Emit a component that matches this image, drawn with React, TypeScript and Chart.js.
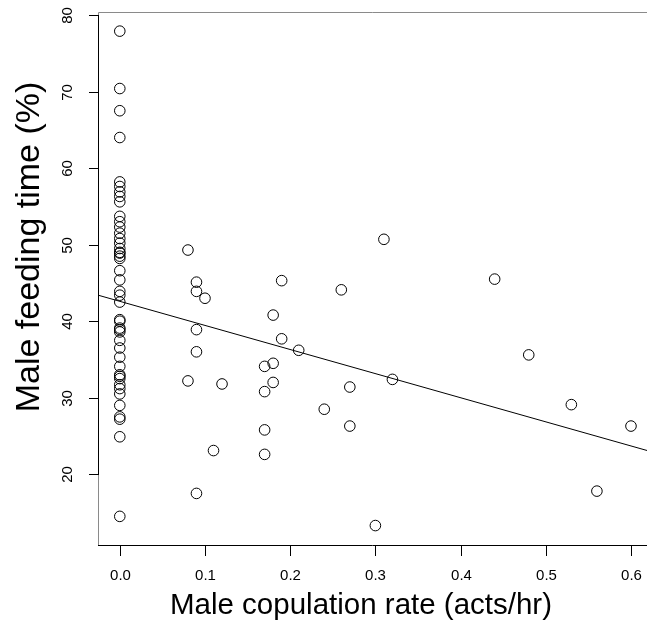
import React, { useEffect, useRef } from "react";
import { Chart, registerables } from "chart.js";

Chart.register(...registerables);

// Male feeding time (%) of males with a copulation rate of 0.0 acts/hr
const zeroRateFeeding = [
  77.9, 70.4, 67.5, 64.0, 58.2, 57.6, 56.9, 56.3, 55.6, 53.7, 53.0, 52.3, 51.5,
  50.8, 50.2, 49.5, 49.0, 48.9, 48.5, 48.2, 46.6, 45.4, 43.9, 43.4, 42.5, 40.2,
  40.0, 39.1, 38.9, 38.6, 37.5, 36.5, 35.3, 34.1, 33.0, 32.8, 32.5, 31.7, 31.2,
  30.5, 29.0, 27.5, 27.2, 24.9, 14.5,
];

// Males with a non-zero copulation rate
const otherRates = [
  0.08, 0.08, 0.09, 0.09, 0.09, 0.09, 0.09, 0.1, 0.11, 0.12, 0.17, 0.17, 0.17,
  0.17, 0.18, 0.18, 0.18, 0.19, 0.19, 0.21, 0.24, 0.26, 0.27, 0.27, 0.3, 0.31,
  0.32, 0.44, 0.48, 0.53, 0.56, 0.6,
];
const otherFeeding = [
  49.3, 32.2, 45.1, 43.9, 38.9, 36.0, 17.5, 43.0, 23.1, 31.8, 34.1, 30.8, 25.8,
  22.6, 40.8, 34.5, 32.0, 45.3, 37.7, 36.2, 28.5, 44.1, 31.4, 26.3, 13.3, 50.7,
  32.4, 45.5, 35.6, 29.1, 17.8, 26.3,
];

// Least-squares fit drawn across the plot (abline)
const fitIntercept = 42.6;
const fitSlope = -31.5;

const xTicks = [0, 0.1, 0.2, 0.3, 0.4, 0.5, 0.6];
const xTickLabels = ["0.0", "0.1", "0.2", "0.3", "0.4", "0.5", "0.6"];
const yTicks = [20, 30, 40, 50, 60, 70, 80];
const yTickLabels = ["20", "30", "40", "50", "60", "70", "80"];

const xTitle = "Male copulation rate (acts/hr)";
const yTitle = "Male feeding time (%)";

const X_MIN = -0.0244;
const X_MAX = 0.6188;
const Y_MIN = 10.76;
const Y_MAX = 80.4;

const FONT = "'Liberation Sans', Arial, Helvetica, sans-serif";

const axesPlugin = {
  id: "rStyleAxes",
  afterDraw(chart: any) {
    const { ctx, chartArea: ca, scales } = chart;
    const xs = scales.x;
    const ys = scales.y;
    ctx.save();
    ctx.lineWidth = 1;

    // box: top and left in grey
    ctx.strokeStyle = "#8a8a8a";
    ctx.beginPath();
    ctx.moveTo(ca.left - 0.5, ca.bottom);
    ctx.lineTo(ca.left - 0.5, ca.top + 0.5);
    ctx.lineTo(ca.right, ca.top + 0.5);
    ctx.stroke();

    ctx.strokeStyle = "#000";
    // bottom line
    ctx.beginPath();
    ctx.moveTo(ca.left - 1, ca.bottom + 0.5);
    ctx.lineTo(ca.right, ca.bottom + 0.5);
    ctx.stroke();

    // y axis line from first to last tick
    const yTop = Math.round(ys.getPixelForValue(yTicks[yTicks.length - 1])) + 0.5;
    const yBot = Math.round(ys.getPixelForValue(yTicks[0])) + 0.5;
    ctx.beginPath();
    ctx.moveTo(ca.left - 0.5, yTop);
    ctx.lineTo(ca.left - 0.5, yBot);
    ctx.stroke();

    // y ticks + labels
    ctx.fillStyle = "#000";
    ctx.font = `15px ${FONT}`;
    ctx.textAlign = "center";
    ctx.textBaseline = "middle";
    yTicks.forEach((v, i) => {
      const py = Math.round(ys.getPixelForValue(v)) + 0.5;
      ctx.beginPath();
      ctx.moveTo(ca.left - 10, py);
      ctx.lineTo(ca.left, py);
      ctx.stroke();
      ctx.save();
      ctx.translate(68, py);
      ctx.rotate(-Math.PI / 2);
      ctx.fillText(yTickLabels[i], 0, 0);
      ctx.restore();
    });

    // x ticks + labels
    xTicks.forEach((v, i) => {
      const px = Math.round(xs.getPixelForValue(v)) + 0.5;
      ctx.beginPath();
      ctx.moveTo(px, ca.bottom);
      ctx.lineTo(px, ca.bottom + 11);
      ctx.stroke();
      ctx.fillText(xTickLabels[i], px, 576);
    });

    // titles
    ctx.font = `29.5px ${FONT}`;
    ctx.fillText(xTitle, 361, 606);
    ctx.font = `34px ${FONT}`;
    ctx.save();
    ctx.translate(30, 247);
    ctx.rotate(-Math.PI / 2);
    ctx.fillText(yTitle, 0, 0);
    ctx.restore();

    ctx.restore();
  },
};

export default function App() {
  const canvasRef = useRef<HTMLCanvasElement | null>(null);

  useEffect(() => {
    const canvas = canvasRef.current;
    if (!canvas) return;

    const points = [
      ...zeroRateFeeding.map((y) => ({ x: 0, y })),
      ...otherRates.map((x, i) => ({ x, y: otherFeeding[i] })),
    ];
    const fitLine = [
      { x: X_MIN, y: fitIntercept + fitSlope * X_MIN },
      { x: X_MAX, y: fitIntercept + fitSlope * X_MAX },
    ];

    const chart = new Chart(canvas, {
      type: "scatter",
      data: {
        datasets: [
          {
            type: "line",
            data: fitLine,
            borderColor: "#000",
            borderWidth: 1,
            pointRadius: 0,
            fill: false,
          } as any,
          {
            type: "scatter",
            data: points,
            pointStyle: "circle",
            pointRadius: 5.3,
            pointHoverRadius: 5.3,
            borderColor: "#000",
            borderWidth: 1,
            backgroundColor: "rgba(0,0,0,0)",
          },
        ],
      },
      options: {
        responsive: false,
        maintainAspectRatio: false,
        animation: false,
        devicePixelRatio: 1,
        layout: { autoPadding: false, padding: { top: 12, right: 0, left: 0, bottom: 0 } },
        plugins: {
          legend: { display: false },
          tooltip: { enabled: false },
          title: { display: false },
        },
        events: [],
        scales: {
          x: {
            type: "linear",
            min: X_MIN,
            max: X_MAX,
            grid: { display: false },
            border: { display: false },
            ticks: { display: false },
            afterFit: (s: any) => {
              s.height = 84;
            },
          },
          y: {
            type: "linear",
            min: Y_MIN,
            max: Y_MAX,
            grid: { display: false },
            border: { display: false },
            ticks: { display: false },
            afterFit: (s: any) => {
              s.width = 99;
            },
          },
        },
      },
      plugins: [axesPlugin],
    });

    return () => chart.destroy();
  }, []);

  return (
    <div style={{ position: "absolute", left: 0, top: 0, width: 647, height: 629, background: "#fff" }}>
      <canvas ref={canvasRef} width={647} height={629} style={{ display: "block", width: 647, height: 629 }} />
    </div>
  );
}
